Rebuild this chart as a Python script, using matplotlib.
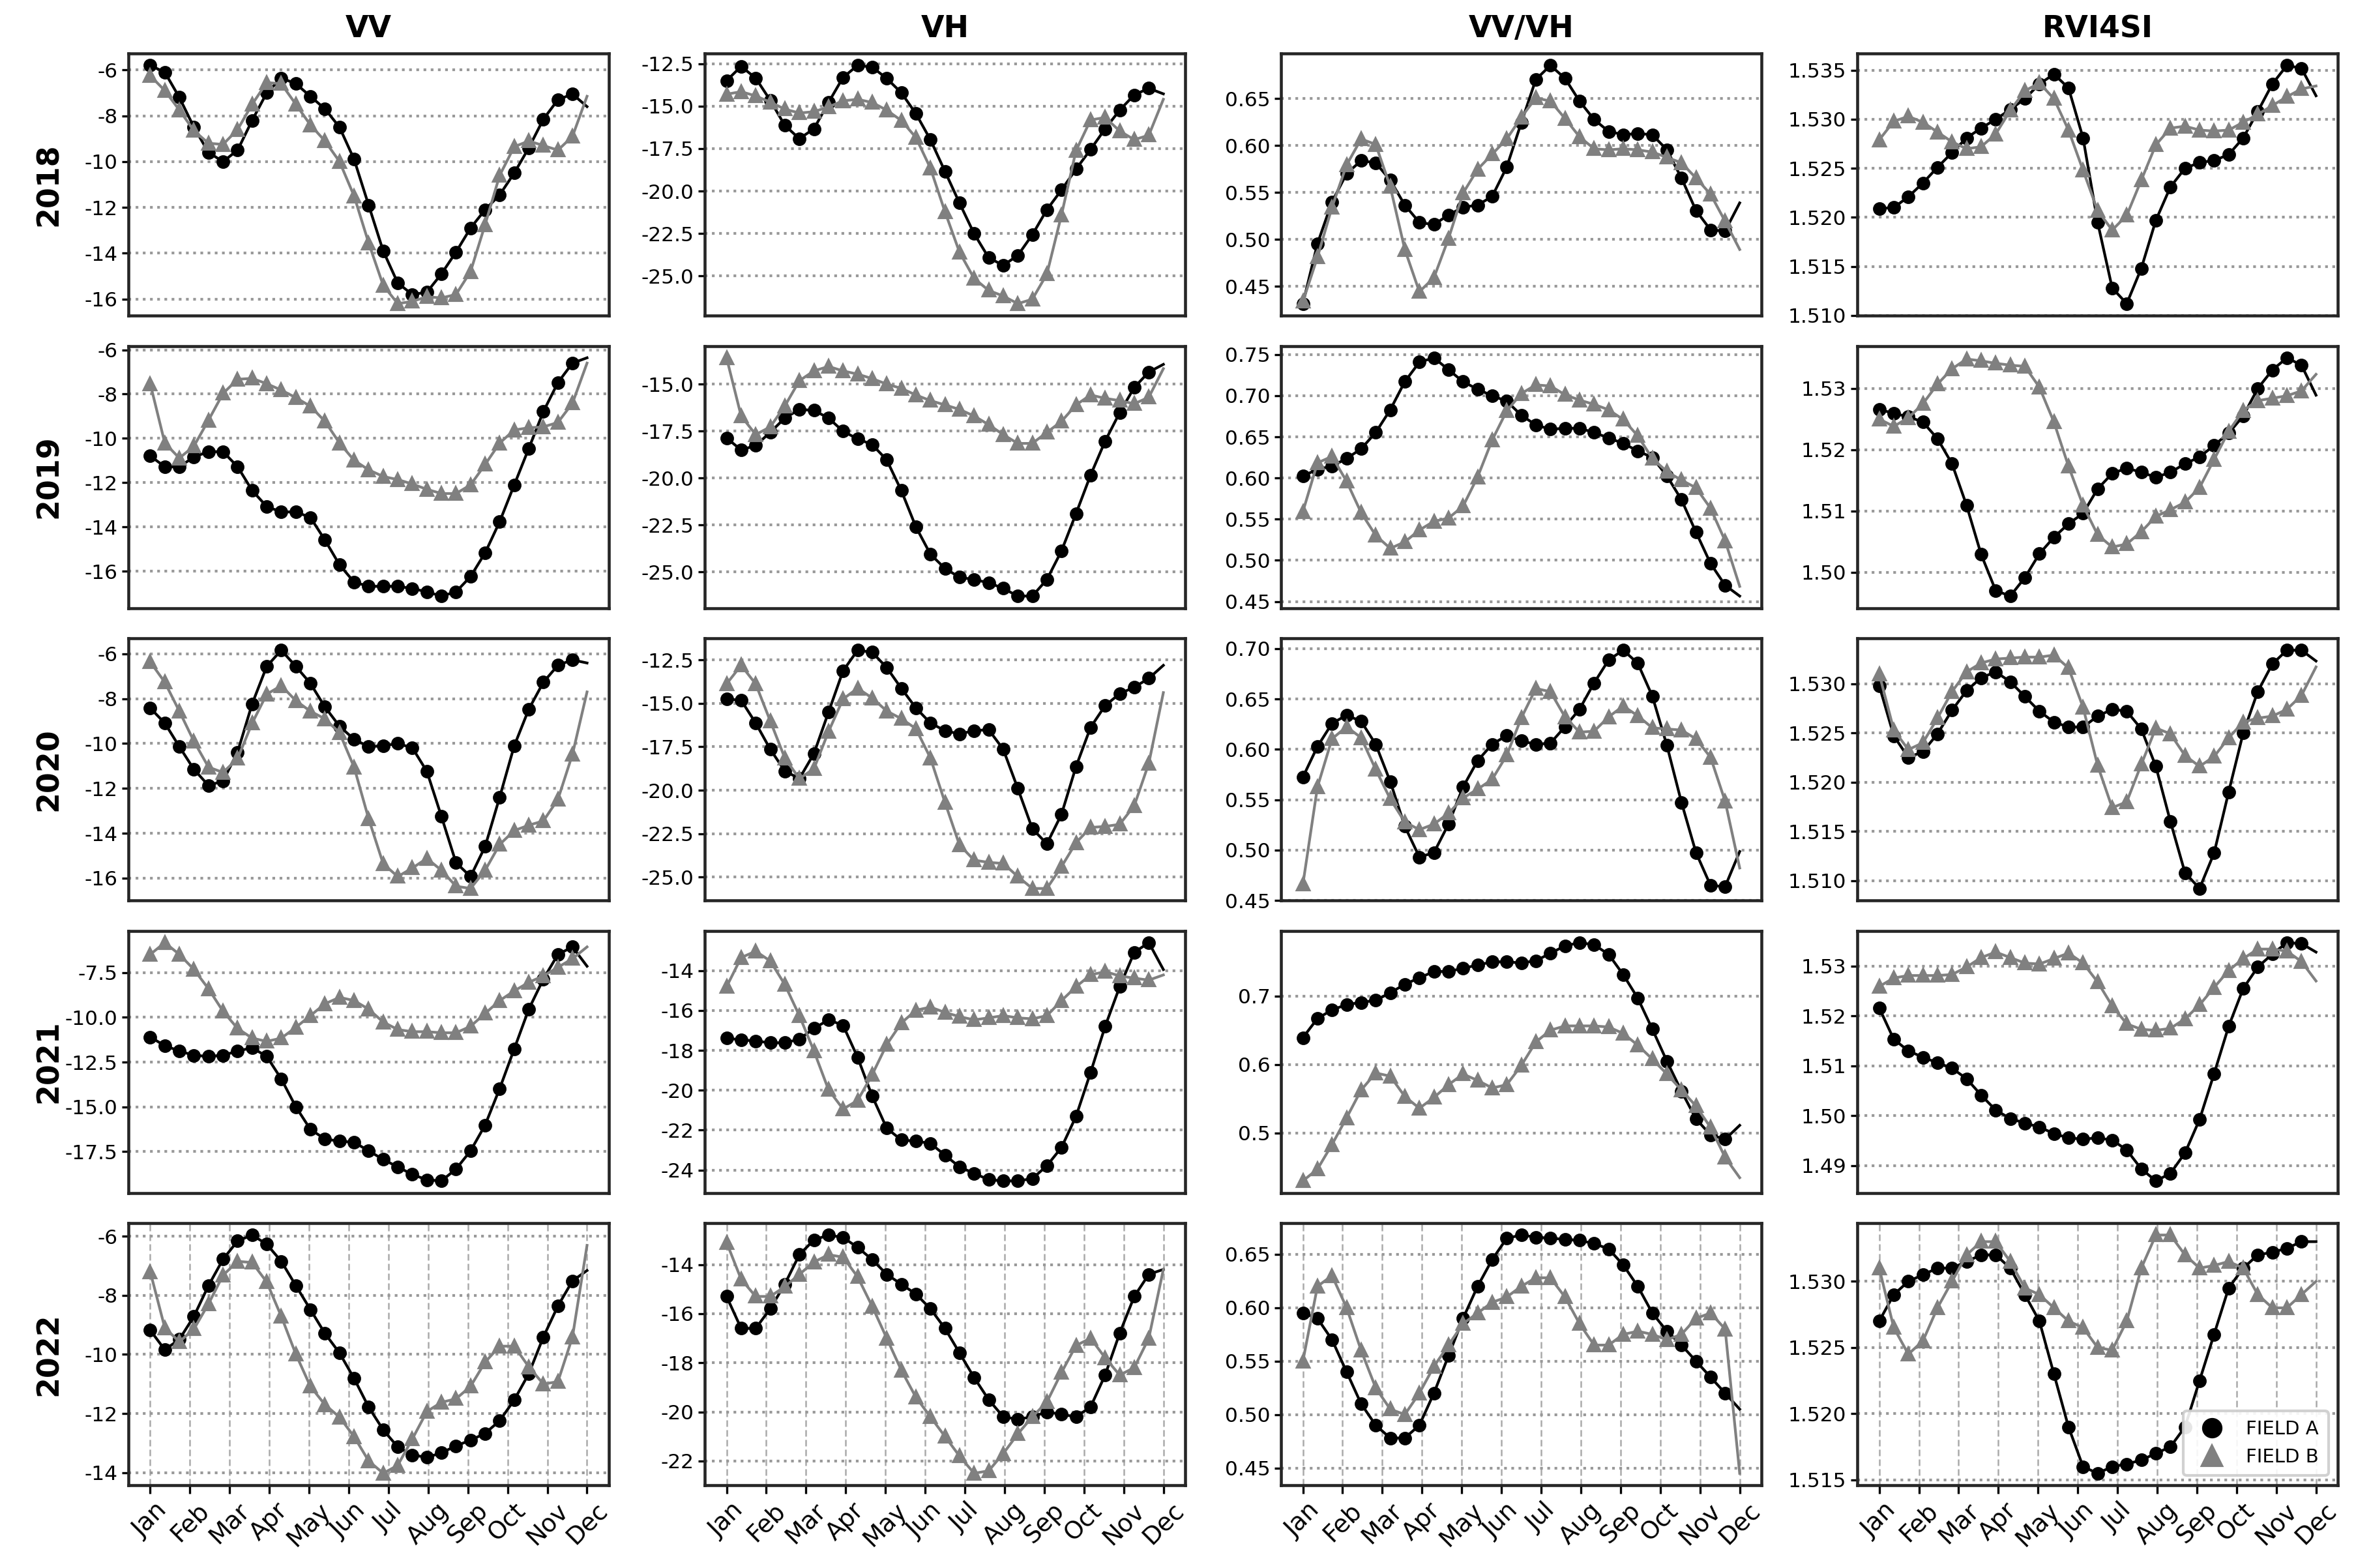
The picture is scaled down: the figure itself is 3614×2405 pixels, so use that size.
import matplotlib
matplotlib.use("Agg")
import matplotlib.pyplot as plt
from matplotlib.lines import Line2D
import numpy as np

months = ["Jan", "Feb", "Mar", "Apr", "May", "Jun", "Jul", "Aug", "Sep", "Oct", "Nov", "Dec"]
years = ["2018", "2019", "2020", "2021", "2022"]
indices = ["VV", "VH", "VV/VH", "RVI4SI"]
legend_labels = ["FIELD A", "FIELD B"]

# ---------------- 2018 ----------------
vv_2018_a = [-5.8, -6.1, -7.2, -8.5, -9.6, -10.0, -9.5, -8.2, -7.0, -6.35, -6.6, -7.15, -7.7, -8.5, -9.9, -11.9,
             -13.9, -15.3, -15.8, -15.7, -14.9, -13.95, -12.9, -12.1, -11.45, -10.5, -9.4, -8.15, -7.3, -7.05, -7.6]
vv_2018_b = [-6.25, -6.9, -7.75, -8.65, -9.2, -9.25, -8.6, -7.5, -6.55, -6.6, -7.5, -8.4, -9.1, -10.0, -11.5, -13.55,
             -15.4, -16.2, -16.1, -15.9, -15.95, -15.8, -14.8, -12.75, -10.6, -9.35, -9.1, -9.3, -9.5, -8.9, -7.15]
vh_2018_a = [-13.49, -12.65, -13.34, -14.65, -16.13, -16.91, -16.33, -14.78, -13.3, -12.59, -12.69, -13.36, -14.2,
             -15.43, -16.97, -18.84, -20.71, -22.51, -23.93, -24.38, -23.8, -22.58, -21.1, -19.94, -18.71, -17.55,
             -16.33, -15.23, -14.33, -13.94, -14.27]
vh_2018_b = [-14.29, -14.14, -14.39, -14.76, -15.17, -15.4, -15.32, -15.04, -14.68, -14.59, -14.78, -15.23, -15.84,
             -16.84, -18.65, -21.22, -23.61, -25.15, -25.86, -26.19, -26.64, -26.38, -24.9, -21.42, -17.62, -15.81,
             -15.66, -16.46, -16.97, -16.71, -14.59]
vvvh_2018_a = [0.4315, 0.4954, 0.5399, 0.57, 0.5838, 0.5815, 0.563, 0.5365, 0.518, 0.5157, 0.526, 0.5342, 0.5365,
               0.5457, 0.577, 0.6242, 0.6703, 0.6853, 0.6715, 0.6472, 0.6276, 0.615, 0.6115, 0.6127, 0.6115, 0.5953,
               0.5653, 0.5307, 0.51, 0.5089, 0.5388]
vvvh_2018_b = [0.4338, 0.481, 0.5342, 0.5792, 0.6069, 0.6011, 0.5561, 0.4892, 0.4442, 0.4592, 0.5008, 0.5492, 0.5746,
               0.5907, 0.6069, 0.63, 0.6507, 0.6472, 0.6288, 0.6092, 0.5965, 0.5953, 0.5965, 0.5953, 0.593, 0.5873,
               0.5815, 0.5653, 0.548, 0.5192, 0.4892]
rvi_2018_a = [1.5209, 1.521, 1.5221, 1.5235, 1.5251, 1.5266, 1.5281, 1.5291, 1.53, 1.531, 1.5321, 1.5336, 1.5346,
              1.5332, 1.5281, 1.5195, 1.5128, 1.5112, 1.5148, 1.5197, 1.5231, 1.525, 1.5256, 1.5258, 1.5264, 1.5281,
              1.5308, 1.5336, 1.5355, 1.5352, 1.5324]
rvi_2018_b = [1.5279, 1.5298, 1.5303, 1.5297, 1.5287, 1.5277, 1.527, 1.5272, 1.5285, 1.5309, 1.5329, 1.5337, 1.5321,
              1.5289, 1.5248, 1.5207, 1.5187, 1.5202, 1.5238, 1.5274, 1.5291, 1.5293, 1.5289, 1.5288, 1.5289, 1.5297,
              1.5305, 1.5314, 1.5323, 1.5331, 1.5334]

# ---------------- 2019 ----------------
vv_2019_a = [-10.79, -11.28, -11.28, -10.84, -10.6, -10.6, -11.28, -12.35, -13.08, -13.32, -13.32, -13.57, -14.59,
             -15.71, -16.49, -16.68, -16.68, -16.68, -16.78, -16.93, -17.12, -16.93, -16.24, -15.17, -13.76, -12.1,
             -10.45, -8.79, -7.48, -6.6, -6.36]
vv_2019_b = [-7.53, -10.21, -10.89, -10.35, -9.18, -7.97, -7.33, -7.29, -7.53, -7.82, -8.16, -8.55, -9.23, -10.21,
             -10.99, -11.42, -11.72, -11.86, -12.06, -12.3, -12.49, -12.49, -12.1, -11.18, -10.21, -9.62, -9.52, -9.48,
             -9.28, -8.41, -6.6]
vh_2019_a = [-17.87, -18.51, -18.27, -17.57, -16.81, -16.35, -16.4, -16.81, -17.51, -17.92, -18.22, -19.04, -20.67,
             -22.6, -24.06, -24.82, -25.29, -25.41, -25.58, -25.88, -26.29, -26.29, -25.41, -23.89, -21.9, -19.85,
             -18.04, -16.52, -15.18, -14.36, -13.95]
vh_2019_b = [-13.6, -16.7, -17.69, -17.28, -16.17, -14.82, -14.3, -14.06, -14.3, -14.47, -14.71, -15.0, -15.23, -15.58,
             -15.88, -16.11, -16.35, -16.7, -17.16, -17.69, -18.16, -18.16, -17.57, -16.99, -16.11, -15.58, -15.76,
             -15.88, -16.05, -15.7, -14.18]
vvvh_2019_a = [0.6026, 0.6105, 0.6145, 0.6237, 0.6355, 0.6553, 0.6829, 0.7171, 0.7408, 0.7461, 0.7316, 0.7171, 0.7079,
               0.7, 0.6934, 0.6763, 0.6645, 0.6592, 0.6605, 0.6605, 0.6553, 0.6487, 0.6421, 0.6329, 0.625, 0.6026,
               0.5737, 0.5342, 0.4961, 0.4697, 0.4566]
vvvh_2019_b = [0.5592, 0.6184, 0.6263, 0.596, 0.5579, 0.5303, 0.5145, 0.5224, 0.5368, 0.5474, 0.5513, 0.5658, 0.6013,
               0.6461, 0.6816, 0.7026, 0.7132, 0.7118, 0.7013, 0.6947, 0.6895, 0.6829, 0.6711, 0.6513, 0.6237, 0.6079,
               0.5974, 0.5882, 0.5632, 0.5237, 0.4684]
rvi_2019_a = [1.5266, 1.5259, 1.5254, 1.5245, 1.5218, 1.5177, 1.5109, 1.5029, 1.497, 1.4961, 1.4991, 1.503, 1.5057,
              1.5079, 1.5096, 1.5136, 1.5161, 1.517, 1.5163, 1.5155, 1.5163, 1.5177, 1.5188, 1.5207, 1.5227, 1.5255,
              1.53, 1.533, 1.535, 1.5338, 1.5289]
rvi_2019_b = [1.525, 1.5238, 1.5252, 1.5275, 1.5307, 1.5332, 1.5348, 1.5345, 1.5341, 1.5338, 1.5336, 1.5302, 1.5245,
              1.5173, 1.5109, 1.5061, 1.5041, 1.5046, 1.5066, 1.5091, 1.5102, 1.5114, 1.5138, 1.5184, 1.523, 1.5264,
              1.528, 1.5284, 1.5288, 1.5296, 1.5323]

# ---------------- 2020 ----------------
vv_2020_a = [-8.42, -9.09, -10.14, -11.15, -11.87, -11.67, -10.38, -8.23, -6.56, -5.84, -6.56, -7.32, -8.37, -9.23,
             -9.81, -10.14, -10.1, -10.0, -10.19, -11.24, -13.25, -15.31, -15.93, -14.59, -12.39, -10.1, -8.47, -7.27,
             -6.51, -6.27, -6.41]
vv_2020_b = [-6.36, -7.27, -8.56, -9.9, -11.05, -11.29, -10.67, -9.09, -7.8, -7.42, -8.09, -8.56, -8.9, -9.52, -11.05,
             -13.35, -15.36, -15.93, -15.55, -15.12, -15.65, -16.36, -16.46, -15.65, -14.5, -13.88, -13.64, -13.45,
             -12.49, -10.48, -7.7]
vh_2020_a = [-14.75, -14.82, -16.13, -17.64, -18.89, -19.33, -17.89, -15.51, -13.13, -11.94, -12.06, -12.94, -14.13,
             -15.26, -16.13, -16.57, -16.76, -16.57, -16.51, -17.64, -19.89, -22.21, -23.08, -21.39, -18.64, -16.38,
             -15.13, -14.44, -14.07, -13.56, -12.81]
vh_2020_b = [-13.88, -12.81, -13.88, -16.01, -18.14, -19.33, -18.76, -16.63, -14.75, -14.13, -14.69, -15.44, -15.88,
             -16.45, -18.14, -20.7, -23.15, -24.02, -24.15, -24.21, -24.96, -25.65, -25.65, -24.4, -23.02, -22.14,
             -22.08, -21.96, -20.89, -18.45, -14.38]
vvvh_2020_a = [0.5724, 0.6028, 0.6257, 0.6339, 0.6278, 0.605, 0.568, 0.5235, 0.493, 0.4974, 0.5257, 0.5626, 0.5887,
               0.605, 0.6137, 0.6083, 0.605, 0.6061, 0.6224, 0.6398, 0.6659, 0.6887, 0.6985, 0.6854, 0.6528, 0.6039,
               0.5474, 0.4974, 0.4648, 0.4637, 0.4985]
vvvh_2020_b = [0.4659, 0.5626, 0.6104, 0.6224, 0.6115, 0.58, 0.5507, 0.5278, 0.5202, 0.5257, 0.5365, 0.5517, 0.5604,
               0.5702, 0.5941, 0.6311, 0.6604, 0.6572, 0.6322, 0.617, 0.618, 0.6322, 0.643, 0.6333, 0.6213, 0.6202,
               0.6191, 0.6104, 0.592, 0.5485, 0.4822]
rvi_2020_a = [1.5298, 1.5247, 1.5225, 1.5231, 1.5249, 1.5273, 1.5293, 1.5306, 1.5312, 1.5302, 1.5287, 1.5272, 1.5261,
              1.5256, 1.5256, 1.5267, 1.5274, 1.5272, 1.5254, 1.5216, 1.516, 1.5108, 1.5092, 1.5128, 1.519, 1.525,
              1.5292, 1.532, 1.5334, 1.5334, 1.5323]
rvi_2020_b = [1.531, 1.5253, 1.5233, 1.524, 1.5265, 1.5292, 1.5312, 1.5321, 1.5325, 1.5326, 1.5327, 1.5327, 1.5329,
              1.5316, 1.5276, 1.5217, 1.5174, 1.518, 1.5218, 1.5255, 1.5249, 1.5227, 1.5216, 1.5226, 1.5245, 1.5261,
              1.5265, 1.5267, 1.5274, 1.5288, 1.5317]

# ---------------- 2021 ----------------
vv_2021_a = [-11.1, -11.58, -11.88, -12.12, -12.18, -12.12, -11.88, -11.7, -12.18, -13.44, -15.0, -16.26, -16.8, -16.92,
             -16.98, -17.46, -17.94, -18.36, -18.78, -19.08, -19.14, -18.48, -17.46, -16.02, -13.98, -11.76, -9.54,
             -7.86, -6.48, -6.06, -7.14]
vv_2021_b = [-6.48, -5.82, -6.48, -7.32, -8.4, -9.66, -10.62, -11.16, -11.34, -11.16, -10.56, -9.9, -9.24, -8.88, -9.06,
             -9.54, -10.26, -10.68, -10.8, -10.8, -10.86, -10.86, -10.5, -9.78, -9.06, -8.52, -8.04, -7.68, -7.2,
             -6.72, -6.06]
vh_2021_a = [-17.39, -17.47, -17.53, -17.62, -17.62, -17.44, -16.9, -16.47, -16.74, -18.35, -20.29, -21.9, -22.49,
             -22.55, -22.66, -23.25, -23.84, -24.16, -24.48, -24.54, -24.54, -24.43, -23.78, -22.87, -21.31, -19.11,
             -16.8, -14.81, -13.09, -12.6, -13.95]
vh_2021_b = [-14.81, -13.35, -13.03, -13.52, -14.7, -16.26, -18.03, -19.97, -20.94, -20.51, -19.22, -17.71, -16.63,
             -15.99, -15.83, -16.1, -16.31, -16.47, -16.37, -16.26, -16.37, -16.42, -16.26, -15.51, -14.81, -14.22,
             -14.05, -14.27, -14.38, -14.48, -14.22]
vvvh_2021_a = [0.6391, 0.6672, 0.6797, 0.6875, 0.6906, 0.6938, 0.7047, 0.7172, 0.7266, 0.7359, 0.7359, 0.7406, 0.7453,
               0.75, 0.75, 0.7484, 0.7516, 0.7625, 0.7734, 0.7781, 0.775, 0.7609, 0.7313, 0.6969, 0.6516, 0.6047,
               0.5609, 0.5203, 0.4969, 0.4906, 0.5109]
vvvh_2021_b = [0.4297, 0.4469, 0.4828, 0.5219, 0.5625, 0.5875, 0.5828, 0.5531, 0.5359, 0.5516, 0.5703, 0.5859, 0.5766,
               0.5656, 0.5703, 0.5984, 0.6328, 0.65, 0.6563, 0.6563, 0.6563, 0.6547, 0.6453, 0.6281, 0.6078, 0.5859,
               0.5625, 0.5391, 0.5078, 0.4641, 0.4344]
rvi_2021_a = [1.5216, 1.5153, 1.513, 1.5117, 1.5106, 1.5095, 1.5074, 1.5041, 1.5011, 1.4994, 1.4985, 1.4977, 1.4964,
              1.4955, 1.4953, 1.4955, 1.4951, 1.4931, 1.4893, 1.4869, 1.4884, 1.4925, 1.4992, 1.5084, 1.5179, 1.5255,
              1.5298, 1.5324, 1.5347, 1.5345, 1.5328]
rvi_2021_b = [1.5259, 1.5276, 1.5281, 1.5281, 1.5281, 1.5283, 1.5298, 1.5317, 1.5328, 1.5317, 1.5306, 1.5304, 1.5315,
              1.5326, 1.5306, 1.5268, 1.522, 1.5184, 1.5173, 1.5171, 1.5175, 1.5194, 1.5222, 1.5257, 1.5291, 1.5315,
              1.5334, 1.5334, 1.533, 1.5309, 1.527]

# ---------------- 2022 ----------------
vv_2022_a = [-9.18, -9.84, -9.49, -8.71, -7.67, -6.78, -6.16, -5.96, -6.27, -6.85, -7.67, -8.48, -9.29, -9.95, -10.81,
             -11.78, -12.55, -13.13, -13.4, -13.48, -13.33, -13.09, -12.9, -12.67, -12.24, -11.54, -10.65, -9.41,
             -8.36, -7.51, -7.16]
vv_2022_b = [-7.2, -9.1, -9.57, -9.14, -8.29, -7.32, -6.85, -6.89, -7.55, -8.71, -9.99, -11.08, -11.7, -12.12, -12.78,
             -13.6, -14.02, -13.75, -12.86, -11.93, -11.62, -11.5, -11.08, -10.26, -9.72, -9.72, -10.42, -11.0, -10.92,
             -9.41, -6.31]
vh_2022_a = [-15.3, -16.6, -16.6, -15.8, -14.8, -13.6, -13.0, -12.8, -12.9, -13.3, -13.8, -14.4, -14.8, -15.2, -15.8,
             -16.6, -17.6, -18.6, -19.5, -20.2, -20.3, -20.2, -20.0, -20.1, -20.2, -19.8, -18.5, -16.8, -15.3, -14.4,
             -14.2]
vh_2022_b = [-13.1, -14.6, -15.3, -15.3, -14.9, -14.4, -13.9, -13.6, -13.7, -14.5, -15.7, -17.0, -18.3, -19.4, -20.2,
             -21.0, -21.8, -22.5, -22.4, -21.7, -20.9, -20.2, -19.6, -18.4, -17.3, -17.0, -17.8, -18.5, -18.2, -17.0,
             -14.2]
vvvh_2022_a = [0.595, 0.59, 0.57, 0.54, 0.51, 0.49, 0.478, 0.478, 0.49, 0.52, 0.555, 0.59, 0.62, 0.645, 0.665, 0.668,
               0.666, 0.665, 0.664, 0.663, 0.66, 0.655, 0.64, 0.62, 0.595, 0.578, 0.565, 0.55, 0.535, 0.52, 0.505]
vvvh_2022_b = [0.55, 0.62, 0.63, 0.6, 0.56, 0.525, 0.505, 0.5, 0.52, 0.545, 0.565, 0.585, 0.595, 0.605, 0.61, 0.62,
               0.628, 0.628, 0.61, 0.585, 0.565, 0.565, 0.575, 0.578, 0.575, 0.57, 0.575, 0.59, 0.595, 0.58, 0.445]
rvi_2022_a = [1.527, 1.529, 1.53, 1.5305, 1.531, 1.531, 1.5315, 1.532, 1.532, 1.531, 1.529, 1.527, 1.523, 1.519, 1.516,
              1.5155, 1.516, 1.5162, 1.5165, 1.517, 1.5175, 1.519, 1.5225, 1.526, 1.5295, 1.531, 1.532, 1.5322, 1.5325,
              1.533, 1.533]
rvi_2022_b = [1.531, 1.5265, 1.5245, 1.5255, 1.528, 1.53, 1.532, 1.533, 1.533, 1.5315, 1.5295, 1.529, 1.528, 1.527,
              1.5265, 1.525, 1.5248, 1.527, 1.531, 1.5335, 1.5335, 1.532, 1.531, 1.5312, 1.5315, 1.531, 1.529, 1.528,
              1.528, 1.529, 1.53]

# y tick labels per panel (row = year, column = index)
yticks = {
    ("2018", "VV"): ["-16", "-14", "-12", "-10", "-8", "-6"],
    ("2018", "VH"): ["-25.0", "-22.5", "-20.0", "-17.5", "-15.0", "-12.5"],
    ("2018", "VV/VH"): ["0.45", "0.50", "0.55", "0.60", "0.65"],
    ("2018", "RVI4SI"): ["1.510", "1.515", "1.520", "1.525", "1.530", "1.535"],
    ("2019", "VV"): ["-16", "-14", "-12", "-10", "-8", "-6"],
    ("2019", "VH"): ["-25.0", "-22.5", "-20.0", "-17.5", "-15.0"],
    ("2019", "VV/VH"): ["0.45", "0.50", "0.55", "0.60", "0.65", "0.70", "0.75"],
    ("2019", "RVI4SI"): ["1.50", "1.51", "1.52", "1.53"],
    ("2020", "VV"): ["-16", "-14", "-12", "-10", "-8", "-6"],
    ("2020", "VH"): ["-25.0", "-22.5", "-20.0", "-17.5", "-15.0", "-12.5"],
    ("2020", "VV/VH"): ["0.45", "0.50", "0.55", "0.60", "0.65", "0.70"],
    ("2020", "RVI4SI"): ["1.510", "1.515", "1.520", "1.525", "1.530"],
    ("2021", "VV"): ["-17.5", "-15.0", "-12.5", "-10.0", "-7.5"],
    ("2021", "VH"): ["-24", "-22", "-20", "-18", "-16", "-14"],
    ("2021", "VV/VH"): ["0.5", "0.6", "0.7"],
    ("2021", "RVI4SI"): ["1.49", "1.50", "1.51", "1.52", "1.53"],
    ("2022", "VV"): ["-14", "-12", "-10", "-8", "-6"],
    ("2022", "VH"): ["-22", "-20", "-18", "-16", "-14"],
    ("2022", "VV/VH"): ["0.45", "0.50", "0.55", "0.60", "0.65"],
    ("2022", "RVI4SI"): ["1.515", "1.520", "1.525", "1.530"],
}

series = {
    "2018": [(vv_2018_a, vv_2018_b), (vh_2018_a, vh_2018_b), (vvvh_2018_a, vvvh_2018_b), (rvi_2018_a, rvi_2018_b)],
    "2019": [(vv_2019_a, vv_2019_b), (vh_2019_a, vh_2019_b), (vvvh_2019_a, vvvh_2019_b), (rvi_2019_a, rvi_2019_b)],
    "2020": [(vv_2020_a, vv_2020_b), (vh_2020_a, vh_2020_b), (vvvh_2020_a, vvvh_2020_b), (rvi_2020_a, rvi_2020_b)],
    "2021": [(vv_2021_a, vv_2021_b), (vh_2021_a, vh_2021_b), (vvvh_2021_a, vvvh_2021_b), (rvi_2021_a, rvi_2021_b)],
    "2022": [(vv_2022_a, vv_2022_b), (vh_2022_a, vh_2022_b), (vvvh_2022_a, vvvh_2022_b), (rvi_2022_a, rvi_2022_b)],
}

GRAY = "#808080"
fig, axes = plt.subplots(5, 4, figsize=(3614 / 300, 2405 / 300), dpi=300)
fig.subplots_adjust(left=0.0545, right=0.9923, top=0.9659, bottom=0.0528, wspace=0.1995, hspace=0.1157)

for r, year in enumerate(years):
    for c, idx in enumerate(indices):
        ax = axes[r][c]
        a, b = series[year][c]
        n = len(a)
        x = np.linspace(0, len(months) - 1, n)
        ax.plot(x, a, color="black", lw=1.0, marker="o", ms=4.0, markevery=slice(0, n - 1), zorder=3)
        ax.plot(x, b, color=GRAY, lw=1.0, marker="^", ms=4.5, markevery=slice(0, n - 1), zorder=4)

        labels = yticks[(year, idx)]
        ax.set_yticks([float(t) for t in labels])
        ax.set_yticklabels(labels)
        ax.tick_params(axis="y", labelsize=7.5, length=2.5, width=0.8, pad=1.5)
        ax.grid(axis="y", linestyle=":", color="#999999", lw=1.0)
        ax.set_xticks(range(len(months)))
        if r == len(years) - 1:
            ax.set_xticklabels(months, rotation=45)
            ax.tick_params(axis="x", labelsize=9, length=3, width=0.8, pad=2)
            ax.grid(axis="x", linestyle=(0, (4, 2)), color="#aaaaaa", lw=0.6)
        else:
            ax.tick_params(axis="x", bottom=False, labelbottom=False)
        for sp in ax.spines.values():
            sp.set_color("0.15")
            sp.set_linewidth(1.1)
        if r == 0:
            ax.set_title(idx, fontsize=11, fontweight="bold", pad=6)
        if c == 0:
            ax.set_ylabel(year, fontsize=11, fontweight="bold")
            ax.yaxis.set_label_coords(-0.135, 0.5)

handles = [Line2D([], [], color="black", marker="o", ls="none", ms=6.5),
           Line2D([], [], color=GRAY, marker="^", ls="none", ms=7)]
axes[-1][-1].legend(handles, legend_labels, loc="lower right", fontsize=7, frameon=True,
                    edgecolor="#cccccc", framealpha=0.9, handletextpad=0.8, borderpad=0.5)

fig.savefig("out.png", dpi=300)
